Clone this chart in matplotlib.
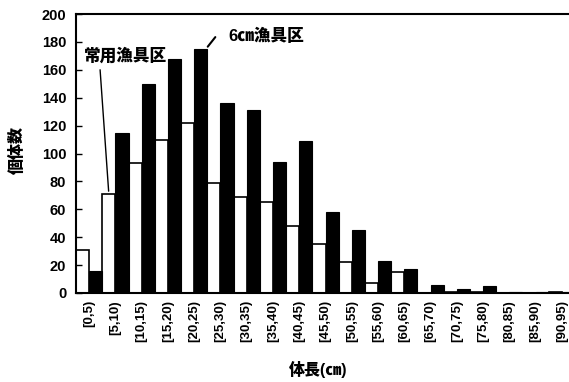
import numpy as np
import matplotlib
matplotlib.use("Agg")
import matplotlib.pyplot as plt

plt.rcParams['font.family'] = ['Liberation Sans', 'Noto Sans CJK JP', 'DejaVu Sans']
plt.rcParams['font.weight'] = 'bold'

# length classes (cm)
classes = ["[0,5)", "[5,10)", "[10,15)", "[15,20)", "[20,25)", "[25,30)", "[30,35)",
           "[35,40)", "[40,45)", "[45,50)", "[50,55)", "[55,60)", "[60,65)", "[65,70)",
           "[70,75)", "[75,80)", "[80,85)", "[85,90)", "[90,95)"]
# counts, normal gear area (white) and 6cm gear area (black)
normal = [31, 71, 93, 110, 122, 79, 69, 65, 48, 35, 22, 7, 15, 0, 1, 1, 0, 0, 1]
mesh6 = [16, 115, 150, 168, 175, 136, 131, 94, 109, 58, 45, 23, 17, 6, 3, 5, 1, 1, 1]
yticks = [0, 20, 40, 60, 80, 100, 120, 140, 160, 180, 200]

x = np.arange(len(classes))

fig = plt.figure(figsize=(5.69, 3.82), dpi=100)
ax = fig.add_axes([76/569, 1 - 293/382, 499/569, 279/382])

ax.bar(x - 0.25, normal, width=0.5, color="white", edgecolor="black", linewidth=1.2)
ax.bar(x + 0.25, mesh6, width=0.5, color="black", edgecolor="black", linewidth=0.8)

ax.set_xlim(-0.5, len(classes) - 0.5)
ax.set_ylim(0, 200)
ax.set_yticks(yticks)
ax.set_xticks(x)
ax.set_xticklabels(classes, rotation=90, va="top", fontsize=9.5)
ax.tick_params(axis="x", length=0, pad=5)
ax.tick_params(axis="y", direction="in", length=4, width=1, pad=7, labelsize=10.5)
for s in ["left", "bottom", "top"]:
    ax.spines[s].set_linewidth(1.5)
ax.spines["right"].set_visible(False)

# callouts
ax.annotate("", xy=(0.75, normal[1]), xytext=(0.41, 162),
            arrowprops=dict(arrowstyle="-", color="black", lw=1))
ax.text(1.38, 170, "常用漁具区", ha="center", va="center", fontsize=12, fontweight="heavy")
ax.annotate("", xy=(4.45, mesh6[4]), xytext=(4.87, 185),
            arrowprops=dict(arrowstyle="-", color="black", lw=1.5))
ax.text(5.29, 184, "6㎝漁具区", ha="left", va="center", fontsize=12, fontweight="heavy")

fig.text(17/569, 1 - 150/382, "個体数", rotation=90, ha="center", va="center",
         fontsize=11.5, fontweight="heavy")
fig.text(318/569, 1 - 369/382, "体長(㎝)", ha="center", va="center",
         fontsize=11.5, fontweight="heavy")

fig.savefig("out.png", dpi=100)
